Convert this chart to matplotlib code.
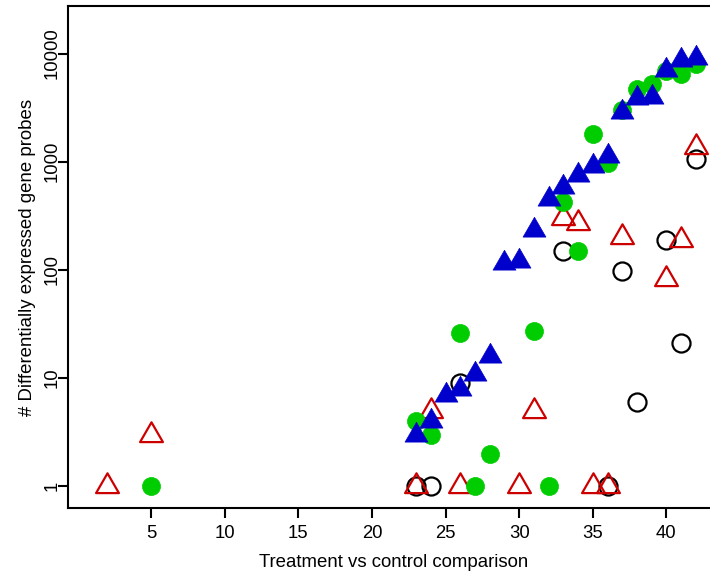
import numpy as np
import matplotlib.pyplot as plt
from matplotlib.path import Path

plt.rcParams['font.family'] = ['Liberation Sans', 'DejaVu Sans']

# comparisons and number of differentially expressed probes per method
black_x = [23, 24, 26, 33, 36, 37, 38, 40, 41, 42]
black_y = [1, 1, 9, 151, 1, 98, 6, 190, 21, 1070]

red_x = [2, 5, 23, 24, 26, 30, 31, 33, 34, 35, 36, 37, 40, 41, 42]
red_y = [1, 3, 1, 5, 1, 1, 5, 302, 270, 1, 1, 200, 83, 190, 1380]

green_x = [5, 23, 24, 26, 27, 28, 31, 32, 33, 34, 35, 36, 37, 38, 39, 40, 41, 42]
green_y = [1, 4, 3, 26, 1, 2, 27.5, 1, 427, 151, 1820, 977, 3020, 4680, 5250, 6920, 6460, 7940]

blue_x = [23, 24, 25, 26, 27, 28, 29, 30, 31, 32, 33, 34, 35, 36, 37, 38, 39, 40, 41, 42]
blue_y = [3, 4, 7, 8, 11, 16, 115, 120, 234, 457, 590, 760, 910, 1120, 2880, 3890, 3980, 7080, 8710, 9120]

x_ticks = [5, 10, 15, 20, 25, 30, 35, 40]
y_ticks = [1, 10, 100, 1000, 10000]

# R style triangle, centred on its centroid
tri = Path([(0, 2), (-np.sqrt(3), -1), (np.sqrt(3), -1), (0, 2)],
           [Path.MOVETO, Path.LINETO, Path.LINETO, Path.CLOSEPOLY])

fig = plt.figure(figsize=(7.1, 5.74), dpi=100)
ax = fig.add_axes([68 / 710, 66 / 574, 652 / 710, 502 / 574])

ax.plot(black_x, black_y, 'o', ms=13, mfc='none', mec='black', mew=1.6, ls='none')
ax.plot(red_x, red_y, marker=tri, ms=19, mfc='none', mec='#CD0000', mew=1.6, ls='none')
ax.plot(green_x, green_y, 'o', ms=13, mfc='#00CD00', mec='#00CD00', mew=0.5, ls='none')
ax.plot(blue_x, blue_y, marker=tri, ms=19, mfc='#0000CD', mec='#0000CD', mew=0.5, ls='none')

ax.set_yscale('log')
ax.set_xlim(-0.64, 43.64)
ax.set_ylim(10 ** -0.2, 10 ** 4.44)
ax.set_xticks(x_ticks)
ax.set_xticklabels([str(t) for t in x_ticks])
ax.set_yticks(y_ticks)
ax.set_yticklabels([str(t) for t in y_ticks], rotation=90, va='center')
ax.minorticks_off()
ax.tick_params(length=7, width=1.5, labelsize=13.3)
ax.tick_params(axis='x', pad=5)
ax.tick_params(axis='y', pad=-2)

for s in ax.spines.values():
    s.set_linewidth(1.5)

ax.set_xlabel('Treatment vs control comparison', fontsize=13.4, labelpad=9)
ax.set_ylabel('# Differentially expressed gene probes', fontsize=13.4, labelpad=6)

plt.savefig('out.png', dpi=100)
